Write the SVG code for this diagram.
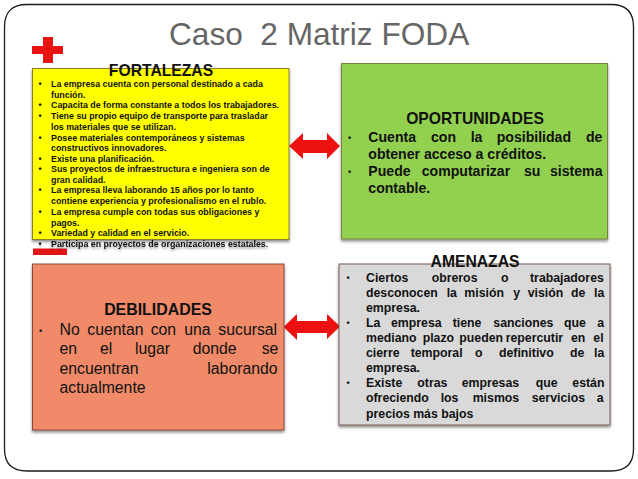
<svg xmlns="http://www.w3.org/2000/svg" width="638" height="479" viewBox="0 0 638 479">
<style>
text{font-family:"Liberation Sans",Arial,sans-serif;fill:#111}
.h{font-weight:700;text-anchor:middle}
.b{font-weight:700}
.f{font-size:8.850px}
.o{font-size:14.100px}
.d{font-size:15.800px}
.a{font-size:12.300px}
.u{font-size:9px;font-weight:700}
.box{stroke-width:1;filter:url(#sh)}
</style>
<defs>
<filter id="sh" x="-5%" y="-5%" width="110%" height="112%"><feDropShadow dx="0" dy="2" stdDeviation="1.500" flood-color="#000" flood-opacity=".45"/></filter>
<filter id="ts" x="-5%" y="-40%" width="110%" height="200%"><feDropShadow dx="0" dy="2" stdDeviation="1.200" flood-color="#000" flood-opacity=".4"/></filter>
</defs>
<rect width="638" height="479" fill="#fff"/>
<path d="M27 4.500H611Q633.500 4.500 633.500 27V449Q633.500 471 611 471H27Q4.500 471 4.500 449V27Q4.500 4.500 27 4.500Z" fill="#fff" stroke="#1a1a1a" stroke-width="1.300"/>
<text id="title" x="169" y="45" xml:space="preserve" style="font-size:31.600px;fill:#666">Caso  2 Matriz FODA</text>
<g id="plus"><path d="M43 37H53V46H63V54H53V63H43V54H32V46H43Z" fill="#e81313"/></g>
<g id="minus"><rect x="33" y="248.500" width="34" height="6.500" fill="#e01515"/></g>
<g id="connectors" fill="#ee1111">
<path d="M289 146L303 133V140H327V133L340 146L327 159V153H303V159Z"/>
<path d="M283.500 327L297 314V321H327V314L340 326.500L327 339V333H297V340Z"/>
</g>
<g id="fortalezas">
<rect class="box" x="32.500" y="68.500" width="256.500" height="171" fill="#ffff00" stroke="#8a7f28"/>
<text class="h" x="161" y="75.500" style="font-size:15.700px">FORTALEZAS</text>
<g class="b f">
<text x="38.500" y="87">•</text><text x="51" y="87">La empresa cuenta con personal destinado a cada</text>
<text x="51" y="97.500">función.</text>
<text x="38.500" y="108">•</text><text x="51" y="108">Capacita de forma constante a todos los trabajadores.</text>
<text x="38.500" y="119">•</text><text x="51" y="119">Tiene su propio equipo de transporte para trasladar</text>
<text x="51" y="130">los materiales que se utilizan.</text>
<text x="38.500" y="140.500">•</text><text x="51" y="140.500">Posee materiales contemporáneos y sistemas</text>
<text x="51" y="151">constructivos innovadores.</text>
<text x="38.500" y="161.500">•</text><text x="51" y="161.500">Existe una planificación.</text>
<text x="38.500" y="172">•</text><text x="51" y="172">Sus proyectos de infraestructura e ingeniera son de</text>
<text x="51" y="183">gran calidad.</text>
<text x="38.500" y="193">•</text><text x="51" y="193">La empresa lleva laborando 15 años por lo tanto</text>
<text x="51" y="204">contiene experiencia y profesionalismo en el rublo.</text>
<text x="38.500" y="215">•</text><text x="51" y="215">La empresa cumple con todas sus obligaciones y</text>
<text x="51" y="225.500">pagos.</text>
<text x="38.500" y="235.500">•</text><text x="51" y="235.500">Variedad y calidad en el servicio.</text>
<text x="38.500" y="246.500" filter="url(#ts)">•</text><text x="51" y="246.500" filter="url(#ts)">Participa en proyectos de organizaciones estatales.</text>
</g>
</g>
<g id="oportunidades">
<rect class="box" x="341.500" y="63.500" width="266" height="175.500" fill="#92d050" stroke="#7d7f45"/>
<text class="h" x="475" y="124" style="font-size:15.700px">OPORTUNIDADES</text>
<g class="b o">
<text class="u" x="348" y="141">•</text>
<text y="142"><tspan x="368.300">Cuenta </tspan><tspan x="431">con </tspan><tspan x="470.700">la </tspan><tspan x="496.700">posibilidad </tspan><tspan x="586">de</tspan></text>
<text x="368.300" y="159">obtener acceso a créditos.</text>
<text class="u" x="348" y="175">•</text>
<text y="176"><tspan x="368.300">Puede </tspan><tspan x="421.700">computarizar </tspan><tspan x="524">su </tspan><tspan x="550">sistema</tspan></text>
<text x="368.300" y="193">contable.</text>
</g>
</g>
<g id="debilidades">
<rect class="box" x="32.500" y="264" width="251.500" height="166" fill="#f08a68" stroke="#8a4a3a"/>
<text class="h" x="158" y="315" style="font-size:15.900px">DEBILIDADES</text>
<g class="d">
<text class="u" x="39" y="334">•</text>
<text y="335"><tspan x="59.500">No </tspan><tspan x="87.300">cuentan </tspan><tspan x="150.700">con </tspan><tspan x="184.300">una </tspan><tspan x="218.300">sucursal</tspan></text>
<text y="354"><tspan x="59.500">en </tspan><tspan x="100">el </tspan><tspan x="135">lugar </tspan><tspan x="192.700">donde </tspan><tspan x="261.700">se</tspan></text>
<text y="373.500"><tspan x="59.500">encuentran </tspan><tspan x="207.300">laborando</tspan></text>
<text x="59.500" y="392.500">actualmente</text>
</g>
</g>
<g id="amenazas">
<rect class="box" x="339" y="264" width="271" height="161" fill="#d9d9d9" stroke="#7a5a55"/>
<text class="h" x="475" y="267" style="font-size:15.700px">AMENAZAS</text>
<g class="b a">
<text class="u" x="346.500" y="281">•</text>
<text y="282"><tspan x="366">Ciertos </tspan><tspan x="431.700">obreros </tspan><tspan x="501">o </tspan><tspan x="530">trabajadores</tspan></text>
<text y="297"><tspan x="366">desconocen </tspan><tspan x="446.700">la </tspan><tspan x="464.300">misión </tspan><tspan x="513.300">y </tspan><tspan x="527.700">visión </tspan><tspan x="571">de </tspan><tspan x="594">la</tspan></text>
<text x="366" y="312">empresa.</text>
<text class="u" x="346.500" y="326">•</text>
<text y="327"><tspan x="366">La </tspan><tspan x="391">empresa </tspan><tspan x="452.700">tiene </tspan><tspan x="493.300">sanciones </tspan><tspan x="564">que </tspan><tspan x="597.300">a</tspan></text>
<text y="342"><tspan x="366">mediano </tspan><tspan x="422.700">plazo </tspan><tspan x="459.300">pueden </tspan><tspan x="505.700">repercutir </tspan><tspan x="571">en </tspan><tspan x="593.300">el</tspan></text>
<text y="357"><tspan x="366">cierre </tspan><tspan x="410.700">temporal </tspan><tspan x="475">o </tspan><tspan x="499">definitivo </tspan><tspan x="570">de </tspan><tspan x="594">la</tspan></text>
<text x="366" y="372">empresa.</text>
<text class="u" x="346.500" y="386">•</text>
<text y="387"><tspan x="366">Existe </tspan><tspan x="417.300">otras </tspan><tspan x="461.700">empresas </tspan><tspan x="535.700">que </tspan><tspan x="572.300">están</tspan></text>
<text y="402"><tspan x="366">ofreciendo </tspan><tspan x="440.700">los </tspan><tspan x="472.700">mismos </tspan><tspan x="531.700">servicios </tspan><tspan x="596.700">a</tspan></text>
<text x="366" y="418">precios más bajos</text>
</g>
</g>
</svg>
